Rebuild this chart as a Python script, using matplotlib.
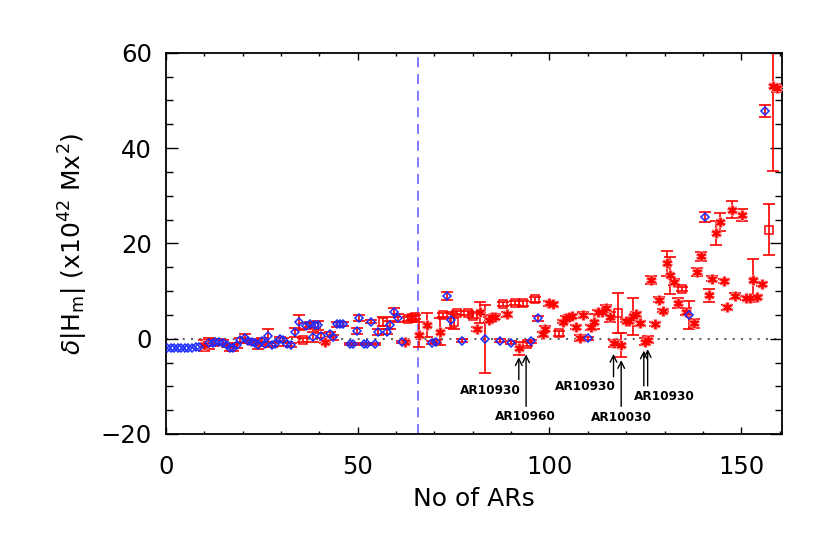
import matplotlib
matplotlib.use('Agg')
import matplotlib.pyplot as plt
from matplotlib.ticker import MultipleLocator
import numpy as np

# ---- data ----
dia_x = [0.3, 1.2, 2.1, 3.0, 4.0, 4.9, 5.8, 6.7, 7.7, 8.6,
         11.2, 12.2, 12.8, 13.9, 14.8, 15.8, 16.7, 17.5, 18.4, 19.3,
         20.6, 21.5, 22.4, 23.2, 24.1, 25.0, 25.8, 26.7, 27.6, 28.4,
         29.7, 30.6, 31.5, 32.6, 33.6, 34.8, 36.4, 37.6, 38.3, 38.9,
         39.7, 40.5, 42.8, 43.6, 44.5, 45.4, 46.2, 48.0, 48.7, 49.7,
         50.4, 51.6, 52.5, 53.4, 54.5, 55.4, 57.6, 58.4, 59.5, 60.4,
         61.5, 69.4, 70.3, 73.3, 74.4, 77.2, 83.3, 87.0, 90.0, 95.2,
         97.0, 110.0, 136.5, 140.6, 156.3]
dia_y = [-2.0, -2.0, -2.0, -2.0, -1.9, -1.9, -1.9, -1.9, -1.8, -1.8,
         -1.0, -0.8, -0.6, -0.6, -0.8, -1.3, -1.9, -1.9, -1.4, -0.3,
         0.1, -0.5, -0.6, -0.8, -1.4, -0.5, -1.1, 0.6, -1.3, -1.1,
         -0.1, -0.3, -1.1, -1.3, 1.3, 3.4, 2.7, 3.0, 0.4, 2.9,
         2.8, 0.6, 0.9, 0.3, 3.0, 3.1, 3.1, -1.1, -1.1, 1.6,
         4.3, -1.1, -1.1, 3.6, -1.1, 1.4, 1.5, 2.9, 5.5, 4.3,
         -0.7, -0.8, -0.6, 8.9, 3.9, -0.4, -0.1, -0.4, -0.8, -0.5,
         4.3, 0.1, 5.0, 25.5, 47.8]
dia_err = [0, 0, 0, 0, 0, 0, 0, 0, 0, 0,
           1.2, 0.8, 0.6, 0.6, 0.5, 0.5, 0.6, 0.6, 0.5, 0.5,
           0.8, 0.5, 0.5, 0.6, 0.8, 0.6, 0.5, 1.4, 0.5, 0.5,
           0.4, 0.4, 0.4, 0.4, 1.0, 1.5, 0.6, 0.6, 1.0, 0.6,
           0.9, 0.5, 0.6, 0.5, 0.5, 0.5, 0.5, 0.3, 0.3, 0.6,
           0.6, 0.3, 0.3, 0.4, 0.3, 0.7, 0.6, 0.8, 1.0, 0.8,
           0.3, 0.4, 0.4, 0.8, 1.6, 0.3, 7.2, 0.3, 0.3, 0.3,
           0.5, 0.3, 2.9, 1.0, 1.3]

ast_x = [10.0, 41.4, 62.3, 66.1, 68.0, 71.4, 81.1, 82.0, 84.2, 85.0,
         85.8, 88.9, 92.0, 98.2, 98.9, 100.0, 100.8, 103.6, 104.3, 105.2,
         106.0, 106.8, 108.0, 108.8, 110.8, 111.7, 112.6, 113.6, 114.8, 115.8,
         116.7, 118.7, 120.0, 120.8, 121.7, 122.6, 123.6, 124.8, 125.7, 126.6,
         127.6, 128.6, 129.5, 130.6, 131.5, 132.6, 133.5, 135.6, 137.6, 138.5,
         139.5, 141.5, 142.4, 143.4, 144.4, 145.4, 146.4, 147.5, 148.4, 150.3,
         151.2, 152.3, 153.2, 154.2, 155.3, 158.2, 159.3]
ast_y = [-1.4, -0.6, -0.7, 0.8, 2.9, 1.5, 2.0, 5.5, 4.0, 4.5,
         4.6, 5.1, -2.0, 0.9, 2.1, 7.4, 7.2, 3.6, 4.4, 4.6,
         4.7, 2.4, 0.1, 5.0, 2.4, 3.6, 5.6, 5.5, 6.5, 4.6,
         -1.0, -1.3, 3.8, 3.8, 4.7, 5.1, 3.2, -0.6, -0.2, 12.3,
         3.1, 8.2, 5.9, 15.8, 13.3, 11.9, 7.5, 5.7, 3.2, 14.0,
         17.3, 9.1, 12.6, 22.2, 24.5, 12.1, 6.6, 27.1, 8.9, 25.9,
         8.6, 8.6, 12.3, 8.7, 11.4, 53.1, 52.6]
ast_err = [1.2, 0.4, 0.3, 2.6, 2.5, 2.8, 0.4, 2.3, 0.5, 0.5,
           0.5, 0.6, 1.4, 0.5, 0.5, 0.5, 0.5, 0.4, 0.4, 0.4,
           0.4, 0.4, 0.6, 0.6, 0.5, 1.5, 0.5, 0.5, 0.6, 1.0,
           0.8, 2.5, 0.4, 0.4, 3.9, 0.6, 0.5, 0.8, 0.8, 0.8,
           0.4, 0.5, 0.4, 2.6, 3.9, 0.6, 1.0, 0.7, 0.9, 0.9,
           0.9, 1.3, 0.5, 2.5, 1.8, 0.4, 0.5, 1.8, 0.6, 1.3,
           0.4, 0.4, 4.5, 0.4, 0.4, 18.0, 0.8]

sq_x = [35.8, 56.5, 63.2, 64.1, 64.9, 72.2, 75.0, 76.0, 78.8, 80.0,
        88.0, 91.1, 93.0, 94.1, 96.1, 102.6, 117.8, 134.5, 157.3]
sq_y = [-0.3, 3.6, 4.1, 4.3, 4.5, 5.0, 3.6, 5.4, 5.4, 4.8,
        7.3, 7.5, 7.4, -1.1, 8.3, 1.1, 5.3, 10.5, 22.9]
sq_err = [0.4, 1.0, 0.4, 0.4, 0.4, 0.4, 1.5, 0.5, 0.5, 0.5,
          0.5, 0.4, 0.5, 0.4, 0.5, 0.6, 4.2, 0.4, 5.3]

split_x = 65.8

# annotations: label, arrow x list, tip y list, tail y, label x, label y
ann_labels = ['AR10930', 'AR10960', 'AR10930', 'AR10030', 'AR10930']
ann_arrow_x = [[92.0], [93.9], [116.7], [118.7], [124.6, 125.6]]
ann_tip_y = [[-3.9], [-3.3], [-3.2], [-4.5], [-2.5, -2.2]]
ann_tail_y = [-8.6, -14.2, -8.0, -14.2, -9.9]
ann_text_x = [84.6, 93.7, 109.4, 118.7, 129.9]
ann_text_y = [-10.9, -16.3, -10.1, -16.5, -12.1]

xmin, xmax = 0, 160.6
ymin, ymax = -20, 60

# ---- figure ----
fig = plt.figure(figsize=(8.3, 5.4), dpi=100)
ax = fig.add_axes([0.2, 0.1963, 0.742, 0.706])

RED = '#ff0000'
BLUE = '#1a2cff'

ax.plot([xmin, xmax], [0, 0], color='#666666', lw=1.5, ls=(0, (1, 3)), zorder=1)
ax.axvline(split_x, color='#6b63ff', lw=1.2, ls=(0, (6, 4)), zorder=1)

def ebars(xs, ys, es):
    xs = np.asarray(xs); ys = np.asarray(ys); es = np.asarray(es)
    m = es > 0
    ax.errorbar(xs[m], ys[m], yerr=es[m], fmt='none', ecolor=RED,
                elinewidth=1.2, capsize=4, capthick=1.2, zorder=2)

ebars(dia_x, dia_y, dia_err)
ebars(ast_x, ast_y, ast_err)
ebars(sq_x, sq_y, sq_err)

ax.plot(ast_x, ast_y, ls='none', marker=(6, 2, 0), ms=7.5, mec='#ff9090',
        mew=2.4, zorder=3)
ax.plot(ast_x, ast_y, ls='none', marker=(6, 2, 0), ms=6.5, mec=RED,
        mew=1.2, zorder=4)
ax.plot(sq_x, sq_y, ls='none', marker='s', ms=6, mfc='none', mec=RED,
        mew=1.1, zorder=4)
ax.plot(dia_x, dia_y, ls='none', marker='D', ms=4.4, mfc='none', mec=BLUE,
        mew=1.1, zorder=5)

for lab, axs, tips, tail, tx, ty in zip(ann_labels, ann_arrow_x, ann_tip_y,
                                         ann_tail_y, ann_text_x, ann_text_y):
    for xa, tip in zip(axs, tips):
        ax.annotate('', xy=(xa, tip), xytext=(xa, tail),
                    arrowprops=dict(arrowstyle='->', color='black', lw=1.0,
                                    mutation_scale=12, shrinkA=0, shrinkB=0))
    ax.text(tx, ty, lab, ha='center', va='center', fontsize=8.7,
            fontweight='bold', color='black')

ax.set_xlim(xmin, xmax)
ax.set_ylim(ymin, ymax)
ax.xaxis.set_major_locator(MultipleLocator(50))
ax.xaxis.set_minor_locator(MultipleLocator(10))
ax.yaxis.set_major_locator(MultipleLocator(20))
ax.yaxis.set_minor_locator(MultipleLocator(5))
ax.tick_params(which='both', direction='in', top=True, right=True,
               width=1.0, color='black')
ax.tick_params(axis='x', which='major', length=5, labelsize=17.5, pad=15)
ax.tick_params(axis='x', which='minor', length=2.5)
ax.tick_params(axis='y', which='major', length=8.6, labelsize=17.5, pad=10)
ax.tick_params(axis='y', which='minor', length=5)
for s in ax.spines.values():
    s.set_linewidth(1.3)

ax.set_xlabel('No of ARs', fontsize=18, labelpad=6)
ax.set_ylabel(r'$\delta$|H$_{\rm m}$| (x10$^{42}$ Mx$^{2}$)', fontsize=18,
              labelpad=8)

fig.savefig('out.png', dpi=100)
